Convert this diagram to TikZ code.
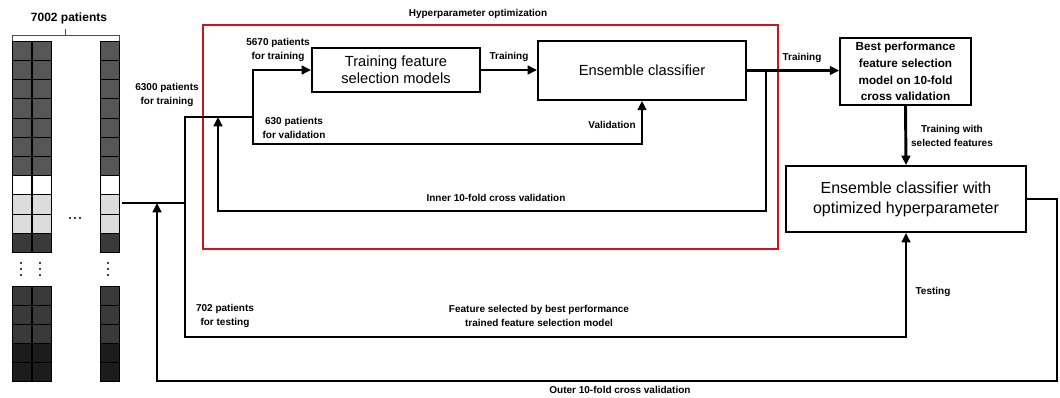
\documentclass[tikz,border=0pt]{standalone}
\usepackage{fontspec}
\setmainfont{Liberation Sans}
\usetikzlibrary{arrows.meta}

\definecolor{celldark}{HTML}{575757}
\definecolor{celllight}{HTML}{DCDCDC}
\definecolor{celldeep}{HTML}{3A3A3A}
\definecolor{cellblack}{HTML}{1C1C1C}
\definecolor{hyperred}{HTML}{C8161D}

\tikzset{
  wire/.style={line width=2.2pt},
  flow/.style={line width=2.2pt,-{Triangle[length=7pt,width=6.5pt]}},
  procbox/.style={draw,line width=1.5pt,inner sep=0pt,align=center,
    font=\fontsize{11}{13}\selectfont},
  lbl/.style={font=\bfseries\fontsize{7.5}{10}\selectfont,align=center,inner sep=0pt},
  cell/.style={draw=black,line width=0.4pt},
}

\begin{document}
\begin{tikzpicture}[x=0.75pt,y=-0.75pt]
\useasboundingbox (0,0) rectangle (1060,397);

%% patient table
\foreach \col in {12,32,100}{
  \foreach \f [count=\i from 0] in {celldark,celldark,celldark,celldark,celldark,celldark,celldark,white,celllight,celllight,celldeep}
    \filldraw[cell,fill=\f] (\col,41+19.2*\i) rectangle ++(19.5,19.2);
  \foreach \f [count=\i from 0] in {celldeep,celldeep,celldeep,cellblack,cellblack}
    \filldraw[cell,fill=\f] (\col,286+19*\i) rectangle ++(19.5,19);
}
\foreach \x in {21,40,108} \foreach \y in {263,269,275} \fill (\x,\y) circle (0.9pt);
\foreach \x in {70,75,80} \fill (\x,218) circle (0.9pt);
\draw[line width=0.6pt,black!70] (12,41) -- (12,35) -- (119,35) -- (119,41) (65,35) -- (65,29);
\node[font=\bfseries\fontsize{9}{10}\selectfont] (total) at (69,18) {7002 patients};

%% hyperparameter optimization
\draw[hyperred,line width=1.4pt] (203,25) rectangle (778,249);
\node[lbl] (hypertitle) at (478,14) {Hyperparameter optimization};

\node[procbox,minimum width=126pt,minimum height=33pt] (trainbox) at (396,70) {Training feature\\selection models};
\node[procbox,minimum width=156pt,minimum height=44pt] (ensbox) at (642,70.5) {Ensemble classifier};
\node[procbox,minimum width=98pt,minimum height=50pt,
  font=\bfseries\fontsize{8.8}{12.5}\selectfont] (bestbox) at (905.5,71.5)
  {Best performance\\feature selection\\model on 10-fold\\cross validation};
\node[procbox,minimum width=180pt,minimum height=49.5pt,
  font=\fontsize{12}{15}\selectfont] (optbox) at (906,199)
  {Ensemble classifier with\\optimized hyperparameter};

\coordinate (gridout) at (122,203);
\coordinate (split) at (185,203);
\coordinate (innersplit) at (253,117);
\coordinate (valcorner) at (642,144);
\coordinate (innertap) at (766,70.5);
\coordinate (innerlow) at (766,211);
\coordinate (innerjoin) at (218,117);
\coordinate (testcorner) at (906,337);
\coordinate (outercorner) at (1057,381);
\coordinate (outerjoin) at (157,203);

%% connectors
\draw[wire] (gridout) -- (split);
\draw[wire] (split) |- (innersplit);
\draw[flow] (innersplit) |- (trainbox.west);
\draw[flow] (innersplit) |- (valcorner) -- (ensbox.south);
\draw[flow] (trainbox.east) -- (trainbox.east -| ensbox.west);
\draw[flow] (ensbox.east) -- (ensbox.east -| bestbox.west);
\draw[flow] (innertap) -- (innerlow) -| (innerjoin);
\draw[flow] (bestbox.south) -- (optbox.north);
\draw[flow] (split) |- (testcorner) -- (optbox.south);
\draw[flow] (optbox.east) -| (outercorner) -| (outerjoin);

%% labels
\node[lbl] (l6300) at (167,95) {6300 patients\\for training};
\node[lbl] (l5670) at (278,50) {5670 patients\\for training};
\node[lbl] (l630) at (294,128) {630 patients\\for validation};
\node[lbl] (ltrain) at (509,57) {Training};
\node[lbl] (lval) at (612,125) {Validation};
\node[lbl] (linner) at (496,198) {Inner 10-fold cross validation};
\node[lbl] (ltrainbest) at (802,58) {Training};
\node[lbl] (lselected) at (952,136) {Training with\\selected features};
\node[lbl] (ltest) at (933,292) {Testing};
\node[lbl] (l702) at (225,316) {702 patients\\for testing};
\node[lbl] (lfeature) at (539,316) {Feature selected by best performance\\trained feature selection model};
\node[lbl] (louter) at (620,390) {Outer 10-fold cross validation};
\end{tikzpicture}
\end{document}
